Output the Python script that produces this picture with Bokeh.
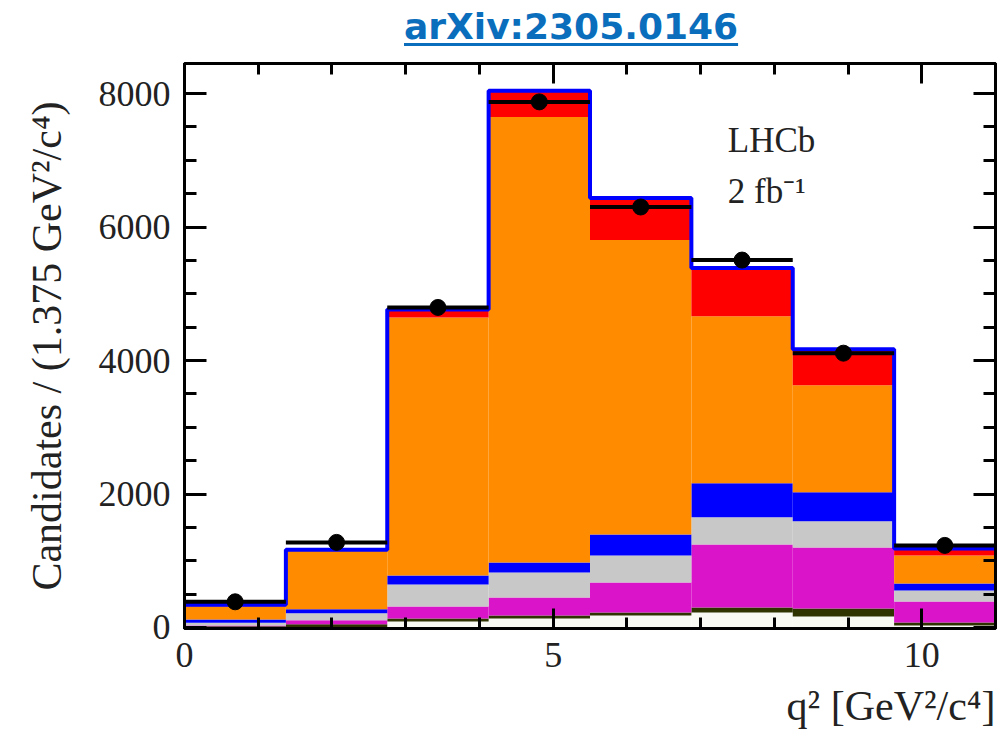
from bokeh.plotting import figure
from bokeh.models import (ColumnDataSource, LinearAxis, SingleIntervalTicker, Range1d,
                          Label, Div, CustomJSTickFormatter, Title)
from bokeh.layouts import column
from bokeh.embed import file_html
from bokeh.resources import INLINE

# ---------------- data ----------------
bin_width = 1.375
bin_left = [0.0, 1.375, 2.75, 4.125, 5.5, 6.875, 8.25, 9.625]
base_comp = [0, 0, 90, 135, 180, 225, 165, 30]
olive_comp = [20, 50, 45, 45, 45, 75, 120, 45]
magenta_comp = [10, 60, 180, 270, 450, 945, 915, 315]
grey_comp = [40, 105, 329, 375, 405, 405, 390, 165]
blue_comp = [50, 60, 135, 150, 315, 510, 435, 105]
orange_comp = [195, 870, 3865, 6675, 4410, 2505, 1605, 420]
red_comp = [25, 20, 119, 390, 630, 720, 540, 105]
data_counts = [385, 1275, 4795, 7875, 6300, 5505, 4110, 1230]

layer_names = ["base", "olive", "magenta", "grey", "blue", "orange", "red"]
layer_colors = ["#f9f9f3", "#2e3300", "#da14c8", "#c8c8c8", "#0000ff", "#ff8c00", "#ff0000"]
layers = [base_comp, olive_comp, magenta_comp, grey_comp, blue_comp, orange_comp, red_comp]

centers = [l + bin_width / 2 for l in bin_left]
src = ColumnDataSource({"x": centers, **{n: v for n, v in zip(layer_names, layers)}})
totals = [sum(v) for v in zip(*layers)]
edges = bin_left + [bin_left[-1] + bin_width]

serif = "Liberation Serif"

p = figure(width=1006, height=684, x_range=Range1d(0, 11), y_range=Range1d(-15, 8450),
           output_backend="svg", toolbar_location=None,
           min_border_left=184, min_border_right=11, min_border_top=8, min_border_bottom=111)
p.xgrid.visible = False
p.ygrid.visible = False
p.outline_line_color = "black"
p.outline_line_width = 3
p.background_fill_color = "white"
p.border_fill_color = "white"

p.vbar_stack(layer_names, x="x", width=bin_width, source=src,
             fill_color=layer_colors, line_color=None)

# total model outline
p.step(x=edges, y=totals + [totals[-1]], mode="after", line_color="#0000ff", line_width=4)

# data points with bin-width bars
p.segment(x0=bin_left, x1=[l + bin_width for l in bin_left], y0=data_counts, y1=data_counts,
          line_color="black", line_width=4)
p.scatter(x=centers, y=data_counts, size=16, fill_color="black", line_color="black")

# axes
def style_axis(ax, major_len, minor_len):
    ax.axis_line_width = 3
    ax.axis_line_color = "black"
    ax.major_tick_line_width = 3
    ax.minor_tick_line_width = 3
    ax.major_tick_in = major_len
    ax.major_tick_out = 0
    ax.minor_tick_in = minor_len
    ax.minor_tick_out = 0
    ax.major_label_text_font = serif
    ax.major_label_text_font_size = "36px"
    ax.major_label_text_color = "#222222"
    ax.axis_label_text_font = serif
    ax.axis_label_text_font_size = "42px"
    ax.axis_label_text_font_style = "normal"
    ax.axis_label_text_color = "#222222"

xt = SingleIntervalTicker(interval=5, num_minor_ticks=5)
yt = SingleIntervalTicker(interval=2000, num_minor_ticks=4)

p.xaxis.ticker = xt
p.yaxis.ticker = yt
style_axis(p.xaxis[0], 20, 11)
style_axis(p.yaxis[0], 22, 12)
p.xaxis.major_label_standoff = 14
p.yaxis.major_label_standoff = 14
p.yaxis.axis_label = "Candidates / (1.375 GeV²/c⁴)"
p.yaxis.axis_label_standoff = 26

xlabel = Title(text="q² [GeV²/c⁴]", align="right", text_font=serif, text_font_size="42px",
               text_font_style="normal", text_color="#222222", standoff=22, offset=0)
p.add_layout(xlabel, "below")

blank = CustomJSTickFormatter(code="return ''")
top_ax = LinearAxis(ticker=SingleIntervalTicker(interval=5, num_minor_ticks=5), formatter=blank)
right_ax = LinearAxis(ticker=SingleIntervalTicker(interval=2000, num_minor_ticks=4), formatter=blank)
style_axis(top_ax, 20, 11)
style_axis(right_ax, 22, 12)
for ax in (top_ax, right_ax):
    ax.major_label_text_font_size = "1px"
    ax.major_label_standoff = 0
p.add_layout(top_ax, "above")
p.add_layout(right_ax, "right")

p.add_layout(Label(x=7.37, y=7290, text="LHCb", text_font=serif, text_font_size="35px",
                   text_color="#222222", text_baseline="alphabetic"))
p.add_layout(Label(x=7.37, y=6525, text="2 fb⁻¹", text_font=serif, text_font_size="35px",
                   text_color="#222222", text_baseline="alphabetic"))

title = Div(text='<div style="padding-left:404px;padding-top:9px;font-family:\'DejaVu Sans\';'
                 'font-weight:bold;font-size:36px;line-height:36px;color:#0a6ebd;'
                 'text-decoration:underline;text-decoration-thickness:3px;'
                 'text-underline-offset:4px;white-space:nowrap;">arXiv:2305.0146</div>',
            width=1006, height=55, margin=0)

layout = column(title, p, spacing=0)
open("out.html", "w").write(file_html(layout, INLINE))
